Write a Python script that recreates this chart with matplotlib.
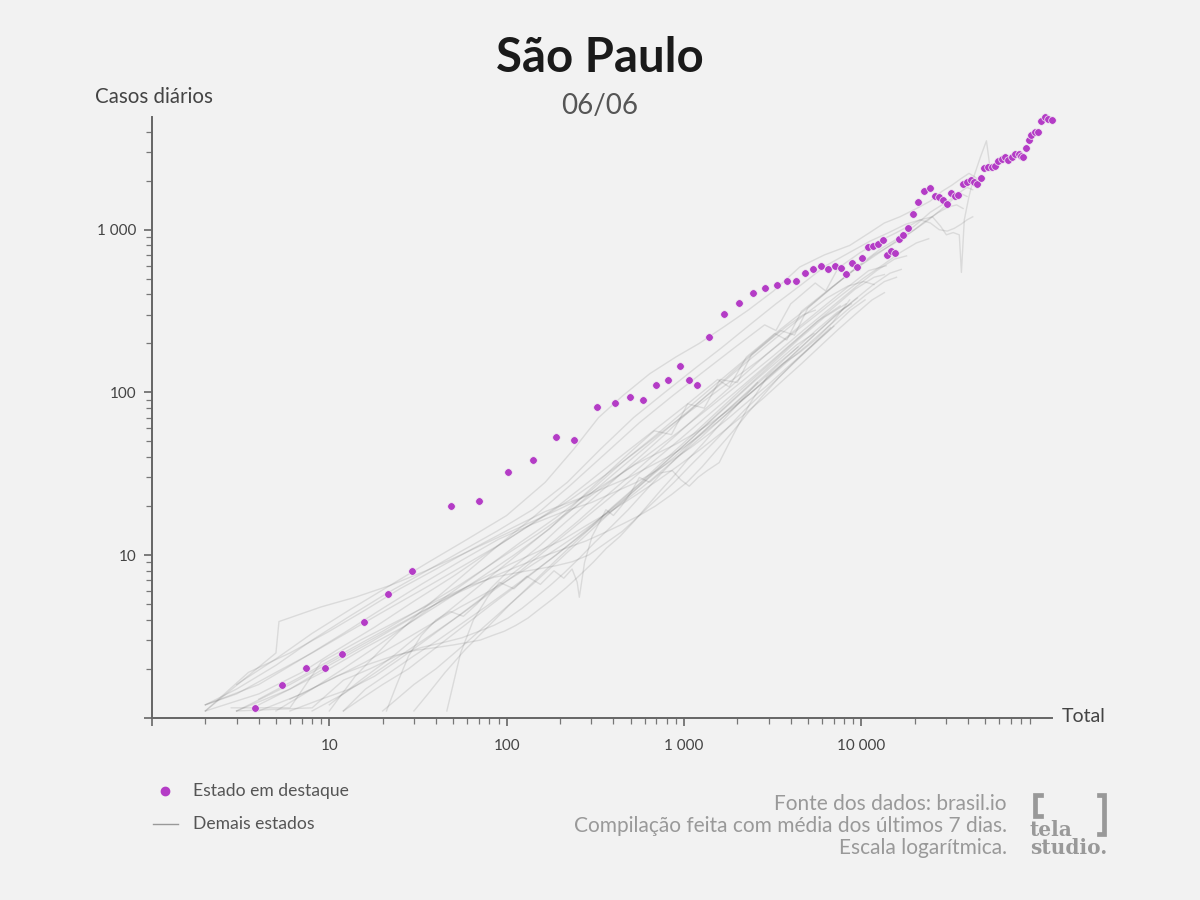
import matplotlib
matplotlib.use("Agg")
import matplotlib.pyplot as plt
from matplotlib.lines import Line2D
from matplotlib.ticker import FixedLocator, FuncFormatter

plt.rcParams['font.family'] = ['Lato', 'DejaVu Sans']

# highlighted state (São Paulo): total cases vs 7-day average of daily cases
sp_total = [3.8, 5.4, 7.4, 9.4, 11.8, 15.6, 21.3, 29.1, 48.8, 69.9, 102, 140,
            191, 241, 322, 406, 497, 585, 693, 813, 954, 1068, 1179, 1391,
            1690, 2040, 2447, 2878, 3333, 3805, 4277, 4808, 5369, 5955, 6523,
            7098, 7693, 8210, 8817, 9408, 10080, 10850, 11630, 12440, 13270,
            13980, 14730, 15470, 16300, 17170, 18240, 19470, 20880, 22610,
            24310, 25940, 27570, 29050, 30400, 32150, 33730, 35290, 37320,
            39320, 41360, 42990, 44990, 47090, 49470, 51970, 54530, 56690,
            59190, 61990, 64730, 67560, 70520, 74000, 77150, 79480, 81570,
            84480, 87830, 91080, 95060, 99220, 103400, 108200, 113300, 118900]
sp_daily = [1.15, 1.58, 2.02, 2.02, 2.45, 3.9, 5.76, 7.94, 20.1, 21.4, 32.3,
            38.5, 52.8, 50.6, 81.5, 85.5, 93.0, 89.5, 110.7, 119.5, 145.7,
            118.3, 111.4, 220, 305, 353, 407, 441, 457, 483, 481, 538, 573,
            602, 570, 596, 583, 531, 625, 591, 667, 788, 793, 819, 866, 701,
            744, 720, 882, 926, 1026, 1245, 1482, 1721, 1811, 1611, 1593,
            1524, 1446, 1690, 1613, 1643, 1911, 1966, 2008, 1966, 1903, 2072,
            2390, 2414, 2434, 2448, 2635, 2714, 2804, 2676, 2792, 2921, 2925,
            2844, 2800, 3185, 3551, 3817, 3966, 4005, 4632, 4916, 4800, 4746]

# other states: (total, daily) pairs
RJ = [(2, 1.2), (3, 1.5), (5, 2.1), (8, 3), (13, 4.2), (21, 5.8), (34, 7.8),
      (55, 10.5), (88, 14), (140, 19), (220, 28), (340, 45), (520, 70),
      (780, 100), (1150, 140), (1650, 190), (2350, 260), (3300, 350),
      (4600, 460), (6300, 600), (8500, 720), (11200, 850), (14300, 960),
      (17800, 1080), (21500, 1150), (25200, 1200), (28000, 1050),
      (30200, 930), (33000, 960), (35700, 930), (36700, 546), (38100, 1150),
      (40500, 1600), (43500, 2180), (47000, 2800), (50800, 3520),
      (53500, 2300)]
CE = [(3, 1.6), (5, 2.3), (8, 3.3), (13, 4.6), (22, 6.5), (36, 9), (60, 12.5),
      (100, 17.5), (165, 28), (240, 45), (330, 70), (450, 95), (640, 130),
      (900, 165), (1220, 200), (1700, 255), (2300, 320), (3200, 420),
      (4500, 590), (6200, 700), (8600, 800), (11000, 950), (13500, 1100),
      (16500, 1200), (20500, 1350), (24500, 1500), (28500, 1720),
      (32500, 1880), (36500, 2060), (40500, 2220), (44000, 2100),
      (47000, 1950)]
PA = [(4, 1.2), (6, 1.5), (10, 2), (16, 2.7), (26, 3.6), (42, 5), (68, 7),
      (110, 10), (175, 14.5), (280, 24), (440, 38), (680, 58), (850, 55),
      (1050, 85), (1300, 80), (1600, 120), (2000, 115), (2400, 170),
      (3500, 240), (4200, 225), (5000, 330), (7000, 450), (9600, 600),
      (12800, 760), (16500, 900), (20500, 1080), (24500, 1280),
      (28500, 1420), (32500, 1560), (36000, 1700), (39500, 1820),
      (42500, 1760)]
AM = [(10, 1.1), (14, 1.8), (22, 3), (35, 4.8), (56, 7.4), (90, 11.5),
      (145, 17.5), (230, 27), (360, 42), (560, 65), (860, 95), (1300, 135),
      (1950, 190), (2850, 260), (3300, 240), (4000, 350), (5500, 470),
      (6300, 420), (7400, 580), (9800, 720), (12600, 850), (15500, 950),
      (18500, 1050), (21500, 1150), (24500, 1100), (27500, 1000),
      (30500, 980), (33500, 1020), (36500, 1080), (39500, 1150),
      (42500, 1200)]
MA = [(5, 1.1), (8, 1.5), (12, 2), (19, 2.8), (30, 4), (48, 5.8), (76, 8.3),
      (120, 12), (190, 17), (300, 25), (460, 38), (700, 55), (1050, 80),
      (1550, 115), (2300, 165), (3350, 235), (4800, 320), (6800, 440),
      (9400, 580), (12600, 720), (16200, 870), (20000, 1000), (24000, 1150),
      (28000, 1320), (32000, 1500), (36000, 1680), (39500, 1600)]
PE = [(2, 1.1), (4, 1.4), (7, 1.9), (11, 2.6), (18, 3.6), (30, 5.2), (50, 7.4),
      (80, 10.5), (125, 14.5), (195, 20), (300, 29), (460, 42), (700, 60),
      (1050, 85), (1550, 120), (1800, 108), (2250, 165), (3250, 230),
      (3800, 210), (4600, 315), (6400, 420), (8800, 550), (11800, 700),
      (15200, 820), (19000, 960), (23000, 1130), (27000, 1270),
      (31000, 1380), (34500, 1420), (37500, 1350)]
BA = [(2, 1.2), (3, 1.4), (5, 1.9), (8, 2.5), (13, 3.4), (21, 4.6), (34, 6.2),
      (55, 8.4), (90, 11.5), (145, 16), (230, 22), (360, 31), (550, 44),
      (830, 62), (1250, 86), (1850, 118), (2700, 160), (3900, 220),
      (5500, 295), (7600, 390), (10200, 500), (13300, 610), (16800, 730),
      (20500, 830), (24000, 880)]
ES = [(4, 1.3), (7, 1.8), (12, 2.5), (20, 3.4), (33, 4.7), (55, 6.6), (90, 9.4),
      (150, 13.5), (240, 19.5), (380, 28), (600, 40), (930, 57), (1420, 82),
      (2150, 118), (3200, 168), (4700, 240), (6700, 330), (9200, 440),
      (12200, 560), (15400, 660), (18000, 690)]
PB = [(6, 1.1), (9, 1.3), (13, 1.5), (18, 1.8), (25, 2.3), (35, 3), (50, 4),
      (75, 5.6), (110, 7.8), (165, 11), (250, 16), (380, 24), (570, 35),
      (860, 52), (1300, 78), (1950, 115), (2900, 170), (4200, 240),
      (6000, 330), (8300, 440), (11000, 560), (13800, 600)]
AL = [(8, 1.1), (12, 1.4), (17, 1.8), (25, 2.4), (37, 3.2), (55, 4.3),
      (80, 5.8), (120, 8), (180, 11.5), (270, 16.5), (410, 24), (620, 35),
      (940, 51), (1420, 75), (2150, 110), (3200, 160), (4700, 230),
      (6700, 320), (9200, 430), (11800, 510), (13500, 530)]
MG = [(2, 1.1), (5, 2.5), (5.2, 3.9), (9, 4.8), (14, 5.5), (22, 6.5), (35, 8),
      (55, 10), (85, 12.5), (130, 15.5), (195, 19), (280, 23), (390, 29),
      (530, 36), (700, 42), (900, 48), (1150, 56), (1450, 66), (1850, 80),
      (2350, 98), (3000, 122), (3850, 155), (4950, 195), (6400, 250),
      (8300, 320), (10700, 400), (13500, 480), (15800, 510)]
SE = [(12, 1.1), (15, 1.3), (20, 1.6), (28, 2), (40, 2.7), (58, 3.7), (85, 5.1),
      (125, 7), (185, 9.8), (270, 13.5), (400, 19), (580, 26), (850, 37),
      (1250, 53), (1800, 76), (2600, 108), (3700, 152), (5200, 215),
      (7200, 300), (9500, 380)]
RN = [(6, 1.3), (10, 1.7), (16, 2.2), (25, 2.9), (38, 3.8), (55, 4.8), (80, 6),
      (115, 7.6), (165, 9.8), (235, 12.7), (330, 16.5), (460, 22),
      (640, 30), (880, 40), (1200, 54), (1650, 73), (2250, 98), (3050, 132),
      (4100, 178), (5500, 238), (7300, 310), (8800, 350)]
DF = [(2, 1.1), (3.5, 1.9), (6, 2.5), (10, 3.4), (16, 4.6), (25, 6.2), (40, 8.2),
      (65, 11), (105, 14.5), (165, 18.5), (250, 22), (360, 26), (490, 30),
      (640, 35), (810, 40), (1000, 46), (1250, 55), (1550, 66), (1950, 82),
      (2500, 104), (3200, 133), (4100, 170), (5300, 220), (6900, 285),
      (9000, 365), (11700, 460), (14500, 540), (16800, 570)]
AP = [(10, 1.2), (15, 1.7), (23, 2.4), (35, 3.5), (55, 5.2), (85, 7.7),
      (130, 11.2), (200, 16.5), (300, 24), (450, 35), (680, 51), (1000, 73),
      (1500, 105), (2200, 150), (3200, 210), (4600, 290), (6400, 380),
      (8400, 450), (10300, 480), (11800, 460)]
RS = [(3, 1.1), (6, 1.5), (10, 2.1), (17, 2.9), (28, 4), (45, 5.4), (70, 7),
      (105, 8.8), (150, 10.5), (210, 12.5), (290, 15.5), (400, 19),
      (540, 23.5), (720, 29), (950, 36), (1250, 45), (1650, 57), (2150, 72),
      (2800, 92), (3600, 118), (4600, 150), (5800, 190), (7300, 240),
      (9200, 300), (11500, 370), (13500, 410)]
SC = [(2, 1.2), (4, 1.6), (7, 2.3), (12, 3.3), (20, 4.7), (33, 6.6), (55, 9.2),
      (90, 12.5), (140, 15.5), (210, 18.5), (300, 21), (410, 24.5),
      (540, 28), (700, 33), (880, 39), (1100, 46), (1400, 56), (1800, 70),
      (2300, 88), (3000, 112), (3900, 145), (5100, 188), (6700, 245),
      (8700, 320), (10500, 370)]
PI = [(20, 1.1), (24, 1.3), (30, 1.6), (40, 2), (53, 2.6), (72, 3.5), (100, 4.8),
      (140, 6.6), (195, 9.2), (275, 13), (390, 18.5), (550, 26), (780, 37),
      (1100, 52), (1550, 74), (2200, 105), (3100, 148), (4400, 210),
      (6200, 290), (8200, 350)]
RO = [(30, 1.1), (36, 1.4), (45, 1.9), (58, 2.6), (78, 3.6), (105, 5),
      (145, 7), (200, 9.8), (280, 13.8), (390, 19.5), (550, 27), (770, 38),
      (1080, 53), (1500, 74), (2100, 104), (2950, 145), (4100, 200),
      (5700, 275), (7600, 340)]
AC = [(46, 1.1), (55, 2.5), (65, 4), (78, 5.5), (91, 6.8), (110, 6.2),
      (130, 7.4), (155, 6.6), (185, 8), (210, 7.2), (234, 8.2), (250, 6.8),
      (257, 5.5), (275, 9), (303, 13), (335, 16), (363, 19), (400, 17.5),
      (444, 20), (500, 24), (560, 30), (640, 28), (740, 32), (860, 33),
      (960, 29), (1070, 26.5), (1200, 30), (1350, 33), (1580, 37),
      (1900, 55), (2350, 85), (2950, 125), (3600, 150), (4470, 175),
      (5500, 210), (6900, 270), (8600, 370)]
RR = [(21, 1.1), (24, 1.6), (28, 2.4), (33, 3.2), (40, 4), (48, 4.5), (57, 4.2),
      (68, 5), (82, 6.3), (100, 7.8), (125, 9.5), (155, 11.5), (195, 14.5),
      (245, 18), (310, 22.5), (390, 28), (490, 35), (620, 44), (780, 55),
      (980, 70), (1230, 88), (1550, 110), (1950, 138), (2450, 172),
      (3050, 210), (3800, 255), (4700, 300), (5500, 320)]
PR = [(3, 1.1), (6, 1.6), (11, 2.3), (19, 3.2), (32, 4.4), (52, 5.8), (80, 7.2),
      (115, 8.5), (160, 9.8), (215, 11), (280, 12.2), (360, 13.8),
      (450, 15.5), (560, 17.5), (690, 20), (850, 23.5), (1040, 28),
      (1270, 35), (1550, 45), (1900, 58), (2300, 75), (2800, 96),
      (3400, 122), (4100, 150), (4900, 180), (5800, 215), (6700, 250)]
GO = [(2.8, 1.15), (6, 1.15), (9, 2.2), (15, 3), (25, 4), (40, 5.2), (60, 6.4),
      (85, 7.3), (115, 7.8), (150, 8.2), (190, 8.6), (235, 9.1), (290, 10),
      (360, 11.8), (450, 14), (560, 17.5), (700, 22), (880, 28), (1100, 36),
      (1380, 46), (1750, 60), (2200, 78), (2800, 100), (3600, 130),
      (4600, 168), (5900, 215), (7000, 255)]
TO = [(12, 1.1), (16, 1.5), (22, 1.9), (30, 2.4), (41, 3), (56, 3.8), (76, 4.8),
      (103, 6.1), (140, 7.8), (190, 10), (255, 13), (340, 17), (450, 22),
      (600, 29), (800, 38), (1060, 50), (1400, 66), (1850, 87), (2450, 115),
      (3250, 150), (4300, 195), (5400, 230)]
MT = [(3, 1.1), (8, 1.15), (12, 1.7), (17, 2), (24, 2.4), (33, 2.7), (44, 2.9),
      (56, 3.1), (70, 3.4), (85, 3.7), (102, 4.1), (122, 4.7), (146, 5.5),
      (176, 6.5), (212, 7.8), (258, 9.6), (315, 12), (390, 15), (485, 19),
      (610, 25), (770, 33), (980, 43), (1260, 56), (1620, 72), (2100, 93),
      (2700, 120), (3500, 155), (4400, 190)]
MS = [(4, 1.1), (7, 1.4), (11, 1.8), (16, 2.1), (23, 2.4), (31, 2.6), (40, 2.7),
      (50, 2.8), (60, 2.9), (71, 3), (83, 3.2), (97, 3.4), (113, 3.7),
      (132, 4.1), (155, 4.7), (183, 5.4), (217, 6.3), (258, 7.5), (307, 9),
      (365, 11), (435, 13), (520, 16), (620, 20), (740, 25), (885, 31),
      (1060, 39), (1270, 48), (1520, 60), (1820, 75), (2180, 93),
      (2600, 115)]

other_states = [RJ, CE, PA, AM, MA, PE, BA, ES, PB, AL, MG, SE, RN, DF, AP, RS,
                SC, PI, RO, AC, RR, PR, GO, TO, MT, MS]

x_major = [1, 10, 100, 1000, 10000]
y_major = [1, 10, 100, 1000]

PURPLE = '#b43cc6'
BG = '#f2f2f2'


def fig_xy(px, py):
    """pixel position in the 1200x900 canvas -> figure fraction"""
    return px / 1200, 1 - py / 900


def thousands(v, _pos):
    if v < 10:
        return ''
    return f'{int(round(v)):,}'.replace(',', ' ')


fig = plt.figure(figsize=(12, 9), dpi=100, facecolor=BG)
ax = fig.add_axes([152 / 1200, 1 - 717.7 / 900, 900 / 1200, 601 / 900])
ax.set_facecolor(BG)
ax.set_xscale('log')
ax.set_yscale('log')

for st in other_states:
    ax.plot([p[0] for p in st], [p[1] for p in st], color='#555555',
            alpha=0.15, lw=1, zorder=1)

ax.scatter(sp_total, sp_daily, s=30, color=PURPLE, edgecolors=BG,
           linewidths=0.5, zorder=3, clip_on=False)

ax.set_xlim(1, 119000)
ax.set_ylim(1, 4950)

minor_x = [m * d for d in x_major for m in range(2, 10)]
minor_y = [m * d for d in y_major for m in range(2, 10) if m * d < 4950]
ax.xaxis.set_major_locator(FixedLocator(x_major))
ax.xaxis.set_minor_locator(FixedLocator(minor_x))
ax.yaxis.set_major_locator(FixedLocator(y_major))
ax.yaxis.set_minor_locator(FixedLocator(minor_y))
ax.xaxis.set_major_formatter(FuncFormatter(thousands))
ax.yaxis.set_major_formatter(FuncFormatter(thousands))
ax.xaxis.set_minor_formatter(FuncFormatter(lambda v, p: ''))
ax.yaxis.set_minor_formatter(FuncFormatter(lambda v, p: ''))

for side in ('top', 'right'):
    ax.spines[side].set_visible(False)
for side in ('left', 'bottom'):
    ax.spines[side].set_color('#666666')
    ax.spines[side].set_linewidth(1.4)
ax.tick_params(which='major', length=6, width=1.2, color='#666666',
               labelsize=11, labelcolor='#444444')
ax.tick_params(which='minor', length=4.5, width=0.9, color='#777777')
ax.tick_params(axis='x', which='major', pad=9)
ax.tick_params(axis='y', which='major', pad=5)

fig.text(*fig_xy(600, 58), 'São Paulo', ha='center', va='center',
         fontsize=34, fontweight='bold', color='#1a1a1a')
fig.text(*fig_xy(600, 106), '06/06', ha='center', va='center',
         fontsize=20, fontweight='normal', color='#555555')
fig.text(*fig_xy(95, 97), 'Casos diários', ha='left', va='center',
         fontsize=14.8, color='#444444')
fig.text(*fig_xy(1062, 716), 'Total', ha='left', va='center',
         fontsize=14, color='#444444')

# legend
fig.add_artist(Line2D([165 / 1200], [1 - 791 / 900], marker='o',
                      markersize=6, color=PURPLE, lw=0))
fig.add_artist(Line2D([153 / 1200, 178 / 1200], [1 - 824 / 900] * 2,
                      color='#999999', lw=1))
fig.text(*fig_xy(193, 791), 'Estado em destaque', ha='left', va='center',
         fontsize=12.6, color='#555555')
fig.text(*fig_xy(193, 824), 'Demais estados', ha='left', va='center',
         fontsize=12.6, color='#555555')

# notes
notes = ['Fonte dos dados: brasil.io',
         'Compilação feita com média dos últimos 7 dias.',
         'Escala logarítmica.']
for i, line in enumerate(notes):
    fig.text(*fig_xy(1007, 804 + 22 * i), line, ha='right', va='center',
             fontsize=15, color='#999999')

# logo
LOGO = '#999999'
for xs, ys in (([1041, 1035, 1035, 1041], [795, 795, 816, 816]),
               ([1099, 1104, 1104, 1099], [795, 795, 834, 834])):
    fig.add_artist(Line2D([x / 1200 for x in xs], [1 - y / 900 for y in ys],
                          color=LOGO, lw=3.4, solid_joinstyle='miter'))
fig.text(*fig_xy(1030, 836), 'tela', ha='left', va='baseline',
         fontsize=14.5, fontweight='bold', family='DejaVu Serif', color=LOGO)
fig.text(*fig_xy(1030, 854), 'studio.', ha='left', va='baseline',
         fontsize=14.5, fontweight='bold', family='DejaVu Serif', color=LOGO)

fig.savefig('out.png', dpi=100, facecolor=BG)
